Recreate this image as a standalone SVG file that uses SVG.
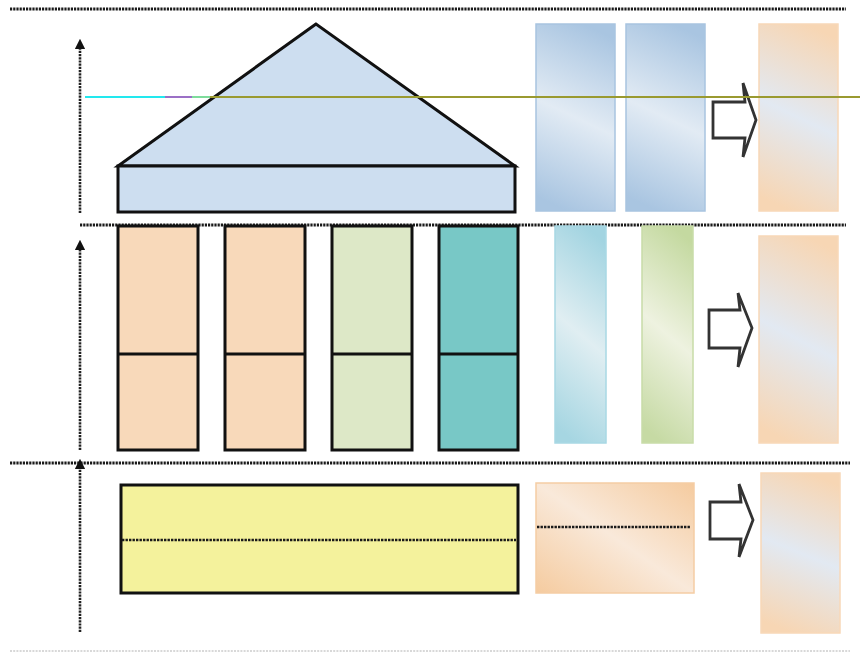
<svg xmlns="http://www.w3.org/2000/svg" width="867" height="652" viewBox="0 0 867 652">
<style>
.sep{stroke:#1a1a1a;stroke-width:2.8;stroke-dasharray:2.2 1;fill:none}
.axis{stroke:#222;stroke-width:2.6;stroke-dasharray:2.2 1;fill:none}
.blk{stroke:#111;stroke-width:3}
.arrow{fill:#fff;stroke:#333;stroke-width:2.8;stroke-linejoin:miter}
.dash{stroke:#1a1a1a;stroke-width:2.4;stroke-dasharray:2.4 1.1}
</style>
<defs>
<marker id="ah" viewBox="0 0 10 10" refX="5" refY="5" markerWidth="4" markerHeight="4" orient="auto"><path d="M0,0L10,5L0,10Z" fill="#111"/></marker>
<linearGradient id="gBlue" x1="0.6" y1="0" x2="0.4" y2="1"><stop offset="0" stop-color="#a9c5e1"/><stop offset="0.5" stop-color="#e2ebf4"/><stop offset="1" stop-color="#a9c5e1"/></linearGradient>
<linearGradient id="gOr" x1="0.6" y1="0" x2="0.4" y2="1"><stop offset="0" stop-color="#f7d6b4"/><stop offset="0.5" stop-color="#e2e9f2"/><stop offset="1" stop-color="#f7d6b4"/></linearGradient>
<linearGradient id="gOrB" x1="1" y1="0" x2="0" y2="1"><stop offset="0" stop-color="#f5cb9f"/><stop offset="0.5" stop-color="#f9e9da"/><stop offset="1" stop-color="#f5cb9f"/></linearGradient>
<linearGradient id="gCy" x1="0.6" y1="0" x2="0.4" y2="1"><stop offset="0" stop-color="#a2d4e1"/><stop offset="0.5" stop-color="#e0eef2"/><stop offset="1" stop-color="#a6d6e2"/></linearGradient>
<linearGradient id="gGr" x1="0.6" y1="0" x2="0.4" y2="1"><stop offset="0" stop-color="#c4d9a0"/><stop offset="0.5" stop-color="#eef2e0"/><stop offset="1" stop-color="#c6daa4"/></linearGradient>
</defs>
<g id="separators">
<line class="sep" x1="10" y1="9" x2="846" y2="9"/>
<line class="sep" x1="80" y1="225" x2="846" y2="225"/>
<line class="sep" x1="10" y1="463" x2="850" y2="463"/>
<line x1="10" y1="651" x2="850" y2="651" stroke="#ccc" stroke-width="1.5" stroke-dasharray="2 1.2"/>
</g>
<g id="roof">
<polygon points="316,24 118,166 515,166" fill="#cddef0" class="blk"/>
<rect x="118" y="166" width="397" height="46" fill="#cddef0" class="blk"/>
</g>
<g id="col1"><rect x="118" y="226" width="80" height="224" fill="#f8d9ba" class="blk"/><line x1="118" y1="354" x2="198" y2="354" class="blk"/></g>
<g id="col2"><rect x="225" y="226" width="80" height="224" fill="#f8d9ba" class="blk"/><line x1="225" y1="354" x2="305" y2="354" class="blk"/></g>
<g id="col3"><rect x="332" y="226" width="80" height="224" fill="#dde8c7" class="blk"/><line x1="332" y1="354" x2="412" y2="354" class="blk"/></g>
<g id="col4"><rect x="439" y="226" width="79" height="224" fill="#78c8c6" class="blk"/><line x1="439" y1="354" x2="518" y2="354" class="blk"/></g>
<g id="base"><rect x="121" y="485" width="397" height="108" fill="#f4f29c" class="blk"/><line x1="122" y1="540" x2="516" y2="540" class="dash"/></g>
<g id="top-blue1"><rect x="536" y="24" width="79" height="187" fill="url(#gBlue)" stroke="#a8c4e0" stroke-width="1.5"/></g>
<g id="top-blue2"><rect x="626" y="24" width="79" height="187" fill="url(#gBlue)" stroke="#a8c4e0" stroke-width="1.5"/></g>
<g id="top-arrow"><polygon class="arrow" points="713,102 745,102 743,83 756,120 743,157 745,138 713,138"/></g>
<g id="top-result"><rect x="759" y="24" width="79" height="187" fill="url(#gOr)" stroke="#f8d8b8" stroke-width="1.5"/></g>
<g id="mid-cyan"><rect x="555" y="226" width="51" height="217" fill="url(#gCy)" stroke="#a8d8e4" stroke-width="1.5"/></g>
<g id="mid-green"><rect x="642" y="226" width="51" height="217" fill="url(#gGr)" stroke="#c8dca8" stroke-width="1.5"/></g>
<g id="mid-arrow"><polygon class="arrow" points="709,310 740,310 738,293 752,328 738,367 740,348 709,348"/></g>
<g id="mid-result"><rect x="759" y="236" width="79" height="207" fill="url(#gOr)" stroke="#f8d8b8" stroke-width="1.5"/></g>
<g id="bot-orange"><rect x="536" y="483" width="158" height="110" fill="url(#gOrB)" stroke="#f5cda4" stroke-width="1.5"/><line x1="537" y1="527" x2="690" y2="527" class="dash"/></g>
<g id="bot-arrow"><polygon class="arrow" points="710,502 741,502 739,484 753,520 739,557 741,539 710,539"/></g>
<g id="bot-result"><rect x="761" y="473" width="79" height="160" fill="url(#gOr)" stroke="#f8d8b8" stroke-width="1.5"/></g>
<g id="connectors">
<line class="axis" x1="80" y1="213" x2="80" y2="44" marker-end="url(#ah)"/>
<line class="axis" x1="80" y1="450" x2="80" y2="245" marker-end="url(#ah)"/>
<line class="axis" x1="80" y1="632" x2="80" y2="464" marker-end="url(#ah)"/>
<line x1="85" y1="97" x2="165" y2="97" stroke="#22e8ee" stroke-width="1.8"/>
<line x1="165" y1="97" x2="192" y2="97" stroke="#9060c0" stroke-width="1.8"/>
<line x1="192" y1="97" x2="210" y2="97" stroke="#70d890" stroke-width="1.8"/>
<line x1="210" y1="97" x2="860" y2="97" stroke="#9a9a30" stroke-width="1.8"/>
</g>
</svg>
